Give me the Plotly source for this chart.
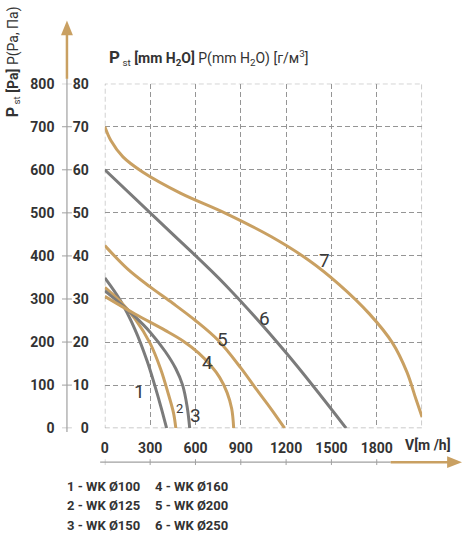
import plotly.graph_objects as go

# ---------------- data (V in m3/h, P in mm H2O) ----------------
c1_x = [0, 100, 200, 280, 330, 375, 409]
c1_y = [34.9, 29.8, 22.9, 15.6, 10, 4.5, 0]
c2_x = [0, 100, 200, 300, 370, 420, 455, 470]
c2_y = [32.7, 29.5, 25.4, 19.7, 13.7, 8, 3.5, 0]
c3_x = [0, 100, 200, 300, 400, 470, 515, 545, 562]
c3_y = [31.9, 29.0, 25.9, 22.3, 17.8, 13.8, 10, 5, 0]
c4_x = [0, 200, 400, 520, 620, 700, 760, 810, 840, 853]
c4_y = [30.6, 26.5, 22.7, 20.2, 17.5, 14.6, 11.8, 8.2, 4.5, 0]
c5_x = [0, 150, 300, 450, 600, 750, 900, 1000, 1100, 1190]
c5_y = [42.4, 37, 32.8, 29, 25, 20.4, 14, 9.2, 4.5, 0]
c6_x = [0, 400, 800, 1200, 1597]
c6_y = [60, 46.7, 33.2, 17.5, 0]
c7_x = [0, 40, 120, 250, 500, 800, 1100, 1350, 1550, 1750, 1904, 2000, 2060, 2100]
c7_y = [70, 66.8, 63, 59.5, 54.6, 49.9, 44.5, 39, 33.4, 26.6, 19.8, 13, 6.7, 2.6]

x_ticks = [0, 300, 600, 900, 1200, 1500, 1800]
x_max = 2100
y_ticks = [0, 10, 20, 30, 40, 50, 60, 70, 80]
y_pa_ticks = [0, 100, 200, 300, 400, 500, 600, 700, 800]

curve_labels = ["1", "2", "3", "4", "5", "6", "7"]
label_x = [229, 492, 599, 678, 782, 1059, 1453]
label_y = [8.6, 4.5, 2.9, 15.3, 20.5, 25.5, 39]
label_size = [19, 13, 19, 19, 19, 19, 19]

legend_items = ["1 - WK Ø100", "2 - WK Ø125", "3 - WK Ø150",
                "4 - WK Ø160", "5 - WK Ø200", "6 - WK Ø250"]

TAN = "#c9a062"
GRAY = "#7b7b7b"
TXT = "#333333"
FONT = "Roboto, Liberation Sans, sans-serif"

W, H = 463, 540


def px(xp):
    return xp / W


def py(yp):
    return 1 - yp / H


fig = go.Figure()
series = [(c1_x, c1_y, GRAY), (c2_x, c2_y, TAN), (c3_x, c3_y, GRAY),
          (c4_x, c4_y, TAN), (c5_x, c5_y, TAN), (c6_x, c6_y, GRAY),
          (c7_x, c7_y, TAN)]
for xs, ys, col in series:
    fig.add_trace(go.Scatter(x=xs, y=ys, mode="lines",
                             line=dict(color=col, width=3, shape="spline", smoothing=1.0),
                             showlegend=False, hoverinfo="skip"))
# helper trace so the Pa axis is drawn
fig.add_trace(go.Scatter(x=[None], y=[None], yaxis="y2", showlegend=False))

grid_color = "#959595"
tick_font = dict(size=14, color=TXT, family=FONT, weight="bold")
fig.update_layout(
    width=W, height=H,
    margin=dict(l=0, r=0, t=0, b=0),
    paper_bgcolor="white", plot_bgcolor="white",
    font=dict(family=FONT, color=TXT),
    xaxis=dict(domain=[px(101.7), px(421.7)], range=[0, x_max],
               tickvals=x_ticks, showgrid=True, gridcolor=grid_color,
               griddash="5px,3px", gridwidth=1, zeroline=False, showline=False,
               ticks="", ticklabelstandoff=10, tickfont=tick_font),
    yaxis=dict(domain=[py(433), py(78)], range=[0, 80], tickvals=y_ticks,
               showgrid=True, gridcolor=grid_color, griddash="5px,3px",
               zeroline=False, showline=False, ticks="", ticklabelstandoff=15,
               tickfont=tick_font),
    yaxis2=dict(overlaying="y", anchor="free", position=px(64), side="left",
                range=[0, 800], tickvals=y_pa_ticks, showgrid=False,
                zeroline=False, showline=False, ticks="", ticklabelstandoff=13,
                tickfont=tick_font),
)

shapes = []
shapes.append(dict(type="rect", xref="x", yref="y", x0=0, x1=x_max, y0=0, y1=80,
                   line=dict(color=grid_color, width=1, dash="5px,3px"), layer="below"))
shapes.append(dict(type="line", xref="paper", yref="paper", x0=px(63.5), x1=px(63.5),
                   y0=py(437), y1=py(73), line=dict(color="#a0a0a0", width=1.2)))
for v in y_ticks:
    shapes.append(dict(type="line", xref="paper", yref="y", x0=px(58.5), x1=px(68.5),
                       y0=v, y1=v, line=dict(color="#a0a0a0", width=1)))
shapes.append(dict(type="line", xref="paper", yref="paper", x0=px(63.5), x1=px(63.5),
                   y0=py(73), y1=py(26), line=dict(color=TAN, width=2.5)))
shapes.append(dict(type="path", xref="paper", yref="paper",
                   path=f"M {px(57.5)} {py(28)} L {px(69.5)} {py(28)} L {px(63.5)} {py(13)} Z",
                   fillcolor=TAN, line=dict(width=0)))
shapes.append(dict(type="line", xref="paper", yref="paper", x0=px(97), x1=px(390),
                   y0=py(468), y1=py(468), line=dict(color="#a0a0a0", width=1.2)))
for v in x_ticks:
    shapes.append(dict(type="line", xref="x", yref="paper", x0=v, x1=v,
                       y0=py(465), y1=py(471), line=dict(color="#a0a0a0", width=1)))
shapes.append(dict(type="line", xref="paper", yref="paper", x0=px(390), x1=px(450),
                   y0=py(468), y1=py(468), line=dict(color=TAN, width=2.5)))
shapes.append(dict(type="path", xref="paper", yref="paper",
                   path=f"M {px(447)} {py(462)} L {px(447)} {py(474)} L {px(462)} {py(468)} Z",
                   fillcolor=TAN, line=dict(width=0)))
fig.update_layout(shapes=shapes)

ann = []
for t, lx, ly, s in zip(curve_labels, label_x, label_y, label_size):
    ann.append(dict(x=lx, y=ly, xref="x", yref="y", text=t, showarrow=False,
                    font=dict(size=s, color="#3a3a3a", family=FONT)))
ann.append(dict(x=px(104), y=py(51), xref="paper", yref="paper", xanchor="left", yanchor="middle",
                showarrow=False,
                text="<b><span style='font-size:17px'>P</span></b><sub> st</sub> "
                     "<b>[mm H<sub>2</sub>O]</b> P(mm H<sub>2</sub>O) [г/м<sup>3</sup>]",
                font=dict(size=14, color=TXT, family=FONT)))
ann.append(dict(x=px(9), y=py(55), xref="paper", yref="paper", xanchor="center", yanchor="middle",
                showarrow=False, textangle=-90,
                text="<b><span style='font-size:16px'>P</span></b><sub> st</sub> <b>[Pa]</b> P(Pa, Па)",
                font=dict(size=14, color=TXT, family=FONT)))
ann.append(dict(x=px(428), y=py(450), xref="paper", yref="paper", xanchor="center", yanchor="middle",
                showarrow=False, text="<b>V[m /h]</b>", font=dict(size=14, color=TXT, family=FONT)))
for i, t in enumerate(legend_items):
    col = i // 3
    row = i % 3
    ann.append(dict(x=px(62 + col * 88), y=py(493 + row * 20), xref="paper", yref="paper",
                    xanchor="left", yanchor="middle", showarrow=False,
                    text=f"<b>{t}</b>", font=dict(size=13, color=TXT, family=FONT)))
fig.update_layout(annotations=ann)

fig.write_html("out.html")
